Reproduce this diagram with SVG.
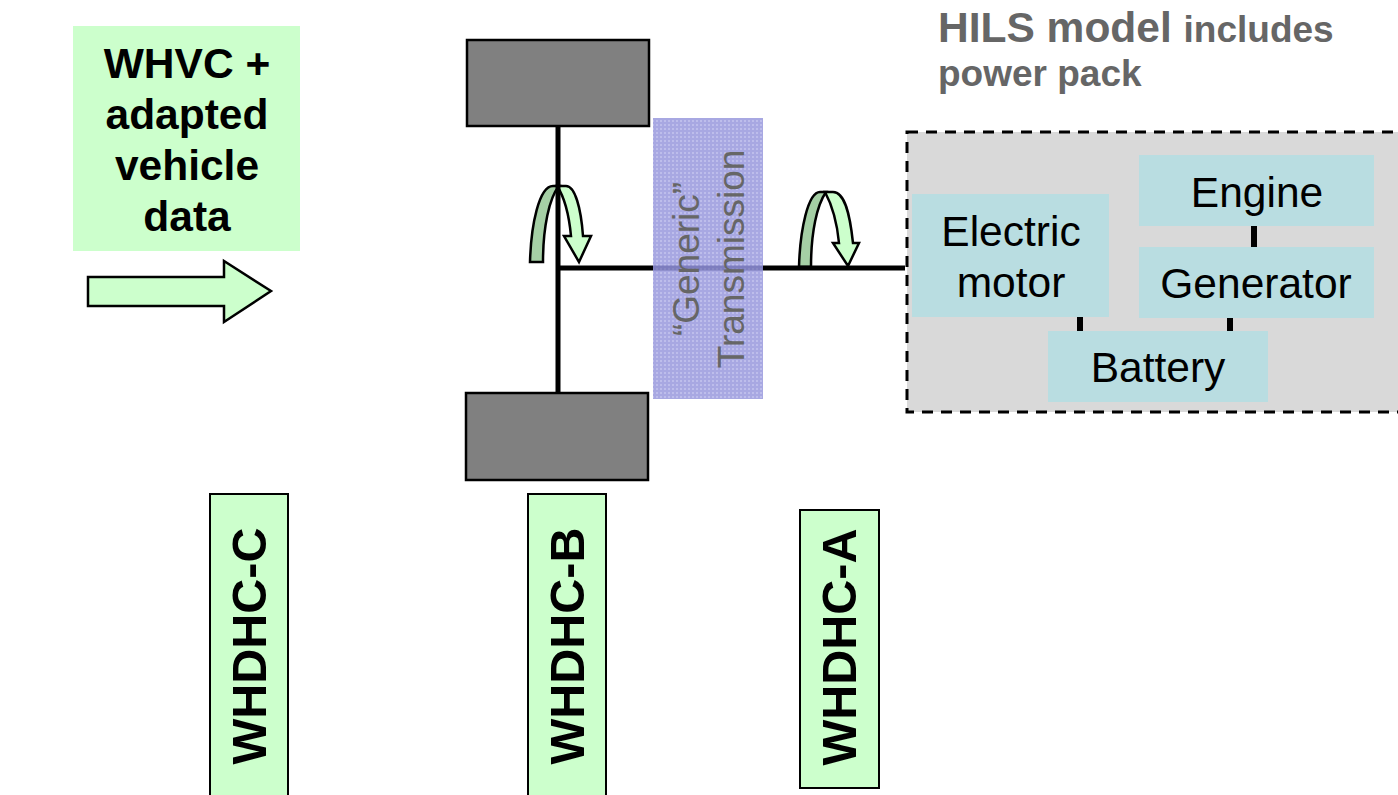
<svg xmlns="http://www.w3.org/2000/svg" width="1398" height="795" viewBox="0 0 1398 795">
<defs>
<pattern id="dots" width="4" height="4" patternUnits="userSpaceOnUse"><rect width="4" height="4" fill="#a3a3e0"/><rect width="2" height="2" fill="#b9b9ea"/></pattern>
<style>
text{font-family:"Liberation Sans",Arial,sans-serif}
.t{font-size:42.5px;text-anchor:middle;fill:#000}
.h{font-size:42.5px;text-anchor:middle;fill:#000;font-weight:bold}
.g{fill:#666;font-weight:bold}
.wh{fill:#ccffcc}
.tag{fill:#ccffcc;stroke:#000;stroke-width:2}
.v{font-size:48.5px;font-weight:bold;text-anchor:middle;fill:#000}
.wheel{fill:#808080;stroke:#000;stroke-width:2.5}
.sh{stroke:#000;stroke-width:5;fill:none}
.c{stroke:#000;stroke-width:6;fill:none}
.comp{fill:#b9dde1}
.ar{fill:#ccffcc;stroke:#000;stroke-width:2.5;stroke-linejoin:miter}
.ad{fill:#a5cfa5;stroke:#000;stroke-width:2.5}
</style>
</defs>
<g id="input">
<rect class="wh" x="73" y="26" width="227" height="225"/>
<text class="h"><tspan x="187" y="78">WHVC +</tspan><tspan x="187" y="129">adapted</tspan><tspan x="187" y="180">vehicle</tspan><tspan x="187" y="231">data</tspan></text>
</g>
<g id="input-arrow"><polygon class="ar" points="88,277 224,277 224,261 271,291 224,322 224,306 88,306"/></g>
<g id="wheel-top"><rect class="wheel" x="467" y="40" width="182" height="86"/></g>
<g id="wheel-bottom"><rect class="wheel" x="466" y="393" width="182" height="87"/></g>
<g id="rotation-wheel">
<path class="ad" d="M530 262C531 225 539 186 553 186H559C549 198 543 228 543 262Z"/>
<path class="ar" d="M557 186H566C575 186 581 208 583 236H591L579 262L564 236H571C569 215 565 198 557 186Z"/>
</g>
<g id="rotation-shaft">
<path class="ad" d="M799 267C800 230 808 192 820 192H826C817 205 811 232 811 267Z"/>
<path class="ar" d="M825 192H833C845 192 850 215 853 243H859L848 266L833 243H839C837 222 832 205 825 192Z"/>
</g>
<g id="hils-box"><rect x="907" y="132" width="500" height="280" fill="#d9d9d9" stroke="#000" stroke-width="3" stroke-dasharray="11 8"/></g>
<g id="connectors">
<path class="sh" d="M558 126V393"/>
<path class="sh" d="M558 268H905"/>
<path class="c" d="M1254 226V248"/>
<path class="c" d="M1080 317V332"/>
<path class="c" d="M1230 317V332"/>
</g>
<g id="transmission">
<rect x="653" y="118" width="110" height="281" fill="url(#dots)" fill-opacity=".95"/>
<path d="M653 268H763" stroke="#5f5fa8" stroke-width="5" stroke-opacity=".5"/>
<text transform="rotate(-90 708 259)" font-size="37" fill="#666" text-anchor="middle"><tspan x="708" y="250">“Generic”</tspan><tspan x="708" y="295">Transmission</tspan></text>
</g>
<g id="hils-title">
<text class="g" x="938" y="42" font-size="42.5">HILS model <tspan font-size="37">includes</tspan></text>
<text class="g" x="938" y="86" font-size="37">power pack</text>
</g>
<g id="electric-motor"><rect class="comp" x="912" y="194" width="197" height="123"/><text class="t"><tspan x="1011" y="246">Electric</tspan><tspan x="1011" y="297">motor</tspan></text></g>
<g id="engine"><rect class="comp" x="1139" y="155" width="235" height="71"/><text class="t" x="1257" y="207">Engine</text></g>
<g id="generator"><rect class="comp" x="1139" y="247" width="235" height="71"/><text class="t" x="1256" y="298">Generator</text></g>
<g id="battery"><rect class="comp" x="1048" y="331" width="220" height="71"/><text class="t" x="1158" y="382">Battery</text></g>
<g id="whdhc-c"><rect class="tag" x="210" y="494" width="78" height="310"/><text class="v" transform="rotate(-90 249 648)" x="251" y="665">WHDHC-C</text></g>
<g id="whdhc-b"><rect class="tag" x="528" y="494" width="78" height="310"/><text class="v" transform="rotate(-90 567 648)" x="569" y="665">WHDHC-B</text></g>
<g id="whdhc-a"><rect class="tag" x="800" y="510" width="79" height="278"/><text class="v" transform="rotate(-90 839 649)" x="841" y="666">WHDHC-A</text></g>
</svg>
